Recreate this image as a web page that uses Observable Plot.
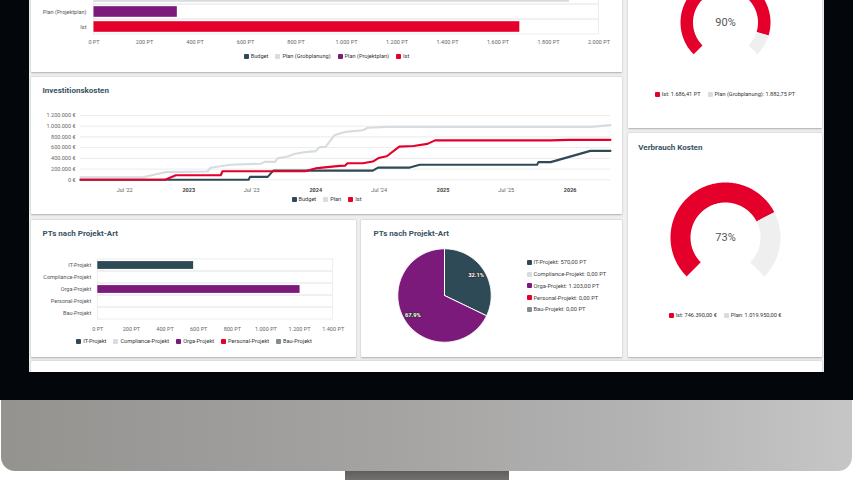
<!DOCTYPE html>
<html lang="de"><head><meta charset="utf-8">
<script src="https://cdn.jsdelivr.net/npm/d3@7"></script>
<script src="https://cdn.jsdelivr.net/npm/@observablehq/plot@0.6"></script>
<style>
html,body{margin:0;padding:0;background:#fff;}
#page{position:relative;width:853px;height:480px;overflow:hidden;font-family:Roboto,"Noto Sans",sans-serif;}
#page div{box-sizing:border-box;}
.abs{position:absolute;}
.card{position:absolute;background:#fff;box-shadow:0 0.5px 2px rgba(0,0,0,0.28);border-radius:1px;}
.title{position:absolute;font-size:8px;line-height:10px;font-weight:700;color:#3a5161;white-space:nowrap;}
.lg{position:absolute;display:flex;justify-content:center;align-items:center;font-size:5.6px;line-height:7px;color:#333;white-space:nowrap;}
.lg .it{display:inline-flex;align-items:center;margin:0 3.5px;}
.lgv{position:absolute;font-size:5.8px;color:#444;white-space:nowrap;}
.lgv .it{display:flex;align-items:center;height:11.8px;}
.sw{display:inline-block;width:5px;height:5px;border-radius:1px;margin-right:2px;flex:none;}
</style></head>
<body><div id="page"></div>
<script>
// ---------------- DATA ----------------
const ptCategories = ["Budget", "Plan (Grobplanung)", "Plan (Projektplan)", "Ist"];
const ptValues = [null, 1882.75, 330, 1686.41];
const ptColors = ["#2e4a57", "#d6dce0", "#7b1a7a", "#e4002b"];
const ptTicks = [0, 200, 400, 600, 800, 1000, 1200, 1400, 1600, 1800, 2000];

const costSeries = ["Budget", "Plan", "Ist"];
const costColors = ["#2e4a57", "#d6dce0", "#e4002b"];
const costTicks = [0, 200000, 400000, 600000, 800000, 1000000, 1200000];
const costYearTicks = ["2023-01-01", "2024-01-01", "2025-01-01", "2026-01-01"];
const costJulTicks = ["2022-07-01", "2023-07-01", "2024-07-01", "2025-07-01"];
const costDomain = ["2022-02-24", "2026-04-27"];

const budgetDates = ["2022-02-24","2023-06-22","2023-06-26","2023-08-16","2023-09-01","2024-06-13","2024-06-28","2024-09-27","2024-10-26","2025-09-28","2025-10-02","2025-11-06","2026-02-28","2026-04-27"];
const budgetValues = [0,0,55000,55000,172000,172000,228000,228000,280000,280000,330000,330000,540000,540000];

const planDates = ["2022-02-24","2022-08-21","2022-09-26","2022-10-27","2023-02-24","2023-03-04","2023-05-01","2023-07-27","2023-08-07","2023-09-06","2023-09-13","2023-10-12","2023-11-03","2023-12-02","2024-01-01","2024-01-12","2024-01-30","2024-02-24","2024-03-10","2024-03-28","2024-05-15","2024-05-30","2024-07-23","2026-03-03","2026-04-27"];
const planValues = [45000,45000,100000,143000,155000,224000,280000,300000,335000,335000,400000,435000,485000,516000,535000,610000,617000,833000,864000,895000,926000,970000,988000,988000,1020000];

const istDates = ["2022-02-24","2022-10-25","2022-11-25","2023-04-03","2023-04-08","2023-12-01","2024-01-05","2024-01-12","2024-03-10","2024-03-25","2024-04-01","2024-05-15","2024-06-13","2024-06-28","2024-07-03","2024-07-23","2024-08-28","2024-10-08","2024-11-17","2024-12-09","2025-11-06","2025-12-28","2026-04-27"];
const istValues = [0,0,85000,85000,160000,160000,220000,222000,260000,262000,310000,310000,340000,400000,410000,440000,620000,630000,670000,735000,735000,746000,746000];

const typeCategories = ["IT-Projekt", "Compliance-Projekt", "Orga-Projekt", "Personal-Projekt", "Bau-Projekt"];
const typeValues = [570, 0, 1203, 0, 0];
const typeColors = ["#2e4a57", "#d6dce0", "#7b1a7a", "#e4002b", "#7d8e99"];
const typeTicks = [0, 200, 400, 600, 800, 1000, 1200, 1400];

const ptGaugeLabels = ["Ist", "Plan (Grobplanung)"];
const ptGaugeValues = [1686.41, 1882.75];
const costGaugeLabels = ["Ist", "Plan"];
const costGaugeValues = [746390, 1019950];
const gaugeColors = ["#e4002b", "#d6dce0"];
const gaugeRestColor = "#efefef";

// ---------------- HELPERS ----------------
const page = document.getElementById("page");
const loc = d3.formatLocale({decimal: ",", thousands: ".", grouping: [3], currency: ["", " €"]});
const fInt = loc.format(",");
const f2 = loc.format(",.2f");
const baseStyle = {fontFamily: "Roboto, 'Noto Sans', sans-serif", fontSize: "5.5px", color: "#666", background: "transparent", overflow: "visible"};

function div(cls, l, t, w, h, css = "") {
  const d = document.createElement("div");
  d.className = cls;
  d.style.cssText = `left:${l}px;top:${t}px;width:${w}px;height:${h}px;${css}`;
  page.appendChild(d);
  return d;
}
function place(svg, l, t, w) {
  const d = document.createElement("div");
  d.style.cssText = `position:absolute;left:${l}px;top:${t}px;width:${w}px;`;
  d.appendChild(svg);
  page.appendChild(d);
}
function title(text, l, cy) {
  const d = document.createElement("div");
  d.className = "title";
  d.style.left = l + "px"; d.style.top = (cy - 5) + "px";
  d.textContent = text;
  page.appendChild(d);
}
function hLegend(labels, colors, left, width, cy) {
  const el = document.createElement("div");
  el.className = "lg";
  el.style.cssText = `left:${left}px;width:${width}px;top:${cy - 3.5}px;height:7px;`;
  labels.forEach((l, i) => {
    const it = document.createElement("span"); it.className = "it";
    const sw = document.createElement("span"); sw.className = "sw"; sw.style.background = colors[i];
    it.appendChild(sw); it.appendChild(document.createTextNode(l));
    el.appendChild(it);
  });
  page.appendChild(el);
}
function vLegend(labels, colors, left, top) {
  const el = document.createElement("div");
  el.className = "lgv";
  el.style.left = left + "px"; el.style.top = top + "px";
  labels.forEach((l, i) => {
    const it = document.createElement("div"); it.className = "it";
    const sw = document.createElement("span"); sw.className = "sw"; sw.style.background = colors[i];
    it.appendChild(sw); it.appendChild(document.createTextNode(l));
    el.appendChild(it);
  });
  page.appendChild(el);
}
// polygon rows for an annular sector; angles in radians, clockwise from 12 o'clock
function sector(name, a0, a1, r0, r1) {
  const n = Math.max(8, Math.ceil(Math.abs(a1 - a0) / 0.02));
  const rows = [];
  if (r0 === 0) rows.push({name, x: 0, y: 0});
  for (let i = 0; i <= n; i++) { const a = a0 + (a1 - a0) * i / n; rows.push({name, x: r1 * Math.sin(a), y: -r1 * Math.cos(a)}); }
  if (r0 > 0) for (let i = n; i >= 0; i--) { const a = a0 + (a1 - a0) * i / n; rows.push({name, x: r0 * Math.sin(a), y: -r0 * Math.cos(a)}); }
  else rows.push({name, x: 0, y: 0});
  return rows;
}

// ---------------- FRAME ----------------
div("abs", 0, -20, 853, 420, "background:#03060a;");
div("abs", 1, 400, 851, 71, "background:linear-gradient(90deg,#949390 0%,#a4a3a2 45%,#b4b3b3 75%,#c6c6c6 100%);border-radius:0 0 14px 14px;");
div("abs", 345, 471, 164, 9, "background:linear-gradient(180deg,#5f5e5c,#72716f);");
div("abs", 29, -20, 795, 392, "background:#efefef;");
div("card", 31, -12, 591, 84);
div("card", 31, 77, 591, 137);
div("card", 31, 220, 325, 137);
div("card", 361, 220, 261, 137);
div("card", 628, -12, 194, 140);
div("card", 628, 133, 194, 224);
div("card", 31, 361, 791, 11);

// ---------------- TOP BAR (PT) ----------------
const ptRows = ptCategories.map((c, i) => ({cat: c, value: ptValues[i]})).filter(d => d.value != null);
place(Plot.plot({
  width: 591, height: 78, marginLeft: 62.5, marginRight: 23.5, marginTop: 0, marginBottom: 18,
  style: baseStyle,
  x: {domain: [0, 2000]},
  y: {domain: ptCategories, padding: 0},
  color: {domain: ptCategories, range: ptColors},
  marks: [
    Plot.barX(ptCategories, {x1: 0, x2: 2000, y: d => d, fill: "none", stroke: "#e8e8e8", strokeWidth: 0.8}),
    Plot.barX(ptRows, {x1: 0, x2: "value", y: "cat", fill: "cat", insetTop: 2.2, insetBottom: 2.2}),
    Plot.axisX({ticks: ptTicks, tickFormat: d => fInt(d) + " PT", tickSize: 0, tickPadding: 6, color: "#666", label: null}),
    Plot.axisY({tickSize: 0, tickPadding: 7.5, color: "#555", label: null})
  ]
}), 31, -25.7, 591);
hLegend(ptCategories, ptColors, 31, 591, 56);

// ---------------- INVESTITIONSKOSTEN ----------------
title("Investitionskosten", 42.5, 91);
const lineRows = [
  ...planDates.map((d, i) => ({series: "Plan", date: new Date(d), value: planValues[i]})),
  ...budgetDates.map((d, i) => ({series: "Budget", date: new Date(d), value: budgetValues[i]})),
  ...istDates.map((d, i) => ({series: "Ist", date: new Date(d), value: istValues[i]}))
];
place(Plot.plot({
  width: 591, height: 97, marginLeft: 49, marginRight: 12, marginTop: 15, marginBottom: 17.7,
  style: baseStyle,
  x: {type: "utc", domain: costDomain.map(d => new Date(d))},
  y: {domain: [0, 1200000]},
  color: {domain: costSeries, range: costColors},
  marks: [
    Plot.gridY({ticks: costTicks, stroke: "#e6e6e6", strokeOpacity: 1, strokeWidth: 0.8}),
    Plot.axisY({ticks: costTicks, tickFormat: d => fInt(d) + " €", tickSize: 0, tickPadding: 5, color: "#666", label: null}),
    Plot.axisX({ticks: costJulTicks.map(d => new Date(d)), tickFormat: d => "Jul '" + String(d.getUTCFullYear()).slice(2), tickSize: 0, tickPadding: 8, color: "#666", label: null}),
    Plot.axisX({ticks: costYearTicks.map(d => new Date(d)), tickFormat: d => String(d.getUTCFullYear()), tickSize: 0, tickPadding: 8, color: "#444", fontWeight: "bold", label: null}),
    Plot.line(lineRows, {x: "date", y: "value", z: "series", stroke: "series", strokeWidth: 2.1, curve: "linear"})
  ]
}), 31, 100, 591);
hLegend(costSeries, costColors, 31, 591, 199);

// ---------------- PTs nach Projekt-Art (bar) ----------------
title("PTs nach Projekt-Art", 42.5, 234);
const typeRows = typeCategories.map((c, i) => ({cat: c, value: typeValues[i]})).filter(d => d.value > 0);
place(Plot.plot({
  width: 326, height: 85, marginLeft: 66.3, marginRight: 24.3, marginTop: 8.3, marginBottom: 15.7,
  style: baseStyle,
  x: {domain: [0, 1400]},
  y: {domain: typeCategories, padding: 0},
  color: {domain: typeCategories, range: typeColors},
  marks: [
    Plot.barX(typeCategories, {x1: 0, x2: 1400, y: d => d, fill: "none", stroke: "#e8e8e8", strokeWidth: 0.8}),
    Plot.barX(typeRows, {x1: 0, x2: "value", y: "cat", fill: "cat", insetTop: 2.1, insetBottom: 2.1}),
    Plot.axisX({ticks: typeTicks, tickFormat: d => fInt(d) + " PT", tickSize: 0, tickPadding: 7, color: "#666", label: null}),
    Plot.axisY({tickSize: 0, tickPadding: 6.6, color: "#555", label: null})
  ]
}), 31, 250, 326);
hLegend(typeCategories, typeColors, 31, 326, 341);

// ---------------- PTs nach Projekt-Art (pie) ----------------
title("PTs nach Projekt-Art", 373.5, 234);
const pieR = 46.7;
const total = d3.sum(typeValues);
const arcs = d3.pie().sort(null).value(d => d)(typeValues);
const pieRows = [], pieLabels = [];
arcs.forEach((a, i) => {
  if (a.value <= 0) return;
  pieRows.push(...sector(typeCategories[i], a.startAngle, a.endAngle, 0, pieR));
  const m = (a.startAngle + a.endAngle) / 2;
  pieLabels.push({x: 0.8 * pieR * Math.sin(m), y: -0.8 * pieR * Math.cos(m), text: (a.value / total * 100).toFixed(1) + "%"});
});
place(Plot.plot({
  width: 100, height: 100, margin: 0,
  style: baseStyle,
  x: {domain: [-50, 50], range: [0, 100], axis: null},
  y: {domain: [-50, 50], range: [0, 100], axis: null},
  color: {domain: typeCategories, range: typeColors},
  marks: [
    Plot.line(pieRows, {x: "x", y: "y", z: "name", fill: "name", stroke: "white", strokeWidth: 1, strokeLinejoin: "round"}),
    Plot.text(pieLabels, {x: "x", y: "y", text: "text", fill: "white", stroke: "#333", strokeWidth: 1.3, fontWeight: "bold", fontSize: 5.8})
  ]
}), 394.3, 245, 100);
vLegend(typeCategories.map((c, i) => `${c}: ${f2(typeValues[i])} PT`), typeColors, 526.5, 256.4);

// ---------------- GAUGES ----------------
function gauge(values, R, r, size, l, t) {
  const p = values[0] / values[1];
  const a0 = -0.75 * Math.PI, a2 = 0.75 * Math.PI, a1 = a0 + (a2 - a0) * Math.min(p, 1);
  const rows = [...sector("Ist", a0, a1, r, R), ...sector("Rest", a1, a2, r, R)];
  const s = size / 2;
  place(Plot.plot({
    width: size, height: size, margin: 0,
    style: baseStyle,
    x: {domain: [-s, s], range: [0, size], axis: null},
    y: {domain: [-s, s], range: [0, size], axis: null},
    color: {domain: ["Ist", "Rest"], range: [gaugeColors[0], gaugeRestColor]},
    marks: [
      Plot.line(rows, {x: "x", y: "y", z: "name", fill: "name", stroke: "none"}),
      Plot.text([Math.round(p * 100) + "%"], {x: 0, y: 0, text: d => d, fontSize: 11, fill: "#555"})
    ]
  }), l, t, size);
}
gauge(ptGaugeValues, 45, 32.5, 100, 675, -28);
hLegend(ptGaugeLabels.map((c, i) => `${c}: ${f2(ptGaugeValues[i])} PT`), gaugeColors, 628, 194, 94);

title("Verbrauch Kosten", 638.3, 148);
gauge(costGaugeValues, 55, 35, 112, 669, 180.5);
hLegend(costGaugeLabels.map((c, i) => `${c}: ${f2(costGaugeValues[i])} €`), gaugeColors, 628, 194, 315.7);
</script>
</body></html>
